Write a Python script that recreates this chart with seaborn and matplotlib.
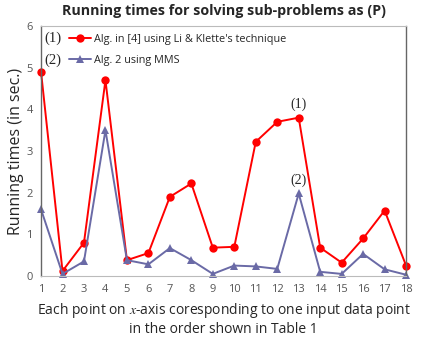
import seaborn as sns
import matplotlib.pyplot as plt
import pandas as pd

points = list(range(1, 19))
alg_li_klette = [4.9, 0.12, 0.8, 4.7, 0.38, 0.55, 1.9, 2.22, 0.68, 0.7, 3.22, 3.7, 3.8, 0.68, 0.32, 0.9, 1.57, 0.25]
alg_mms = [1.6, 0.05, 0.35, 3.5, 0.38, 0.28, 0.67, 0.38, 0.05, 0.25, 0.23, 0.17, 1.98, 0.1, 0.05, 0.53, 0.16, 0.03]

df = pd.DataFrame({'point': points, 'red': alg_li_klette, 'blue': alg_mms})

sns.set_style("white")
plt.rcParams['font.family'] = ['Open Sans', 'DejaVu Sans']
plt.rcParams['mathtext.fontset'] = 'stix'

fig = plt.figure(figsize=(4.23, 3.42), dpi=100)
ax = fig.add_axes([0.097, 0.193, 0.863, 0.731])

sns.lineplot(x='point', y='red', data=df, ax=ax, color='#FF0000', marker='o',
             markersize=6, markeredgewidth=0, linewidth=1.4,
             label="Alg. in [4] using Li & Klette's technique")
sns.lineplot(x='point', y='blue', data=df, ax=ax, color='#6A6AA6', marker='^',
             markersize=6, markeredgewidth=0, linewidth=1.4,
             label="Alg. 2 using MMS")

ax.set_xlim(1, 18)
ax.set_ylim(0, 6)
ax.set_xticks(points)
ax.set_yticks(range(0, 7))
ax.tick_params(axis='both', labelsize=8, colors='#555555', length=0, pad=6)

for s in ['left', 'right']:
    ax.spines[s].set_color('#666666')
    ax.spines[s].set_linewidth(1.0)
for s in ['top', 'bottom']:
    ax.spines[s].set_color('#BBBBBB')
    ax.spines[s].set_linewidth(0.8)

ax.set_title('Running times for solving sub-problems as (P)', fontsize=10.3,
             fontweight='bold', pad=8)
ax.set_ylabel('Running times (in sec.)', fontsize=11.5, labelpad=2)
ax.set_xlabel('Each point on $x$-axis coresponding to one input data point\n'
              'in the order shown in Table 1', fontsize=10, labelpad=4)

leg = ax.legend(loc='upper left', bbox_to_anchor=(0.055, 1.0), frameon=False,
                fontsize=7.8, handlelength=2.1, handletextpad=0.2,
                labelspacing=0.95, borderaxespad=0.3)
ax.text(0.008, 0.952, '(1)', transform=ax.transAxes, fontsize=10.5,
        family='Liberation Serif', va='center')
ax.text(0.008, 0.862, '(2)', transform=ax.transAxes, fontsize=10.5,
        family='Liberation Serif', va='center')

ax.annotate('(1)', (13, alg_li_klette[12]), xytext=(0, 7), textcoords='offset points',
            ha='center', fontsize=10, family='Liberation Serif')
ax.annotate('(2)', (13, alg_mms[12]), xytext=(0, 7), textcoords='offset points',
            ha='center', fontsize=10, family='Liberation Serif')

for line in ax.lines:
    line.set_clip_on(False)

fig.savefig('out.png', dpi=100)
